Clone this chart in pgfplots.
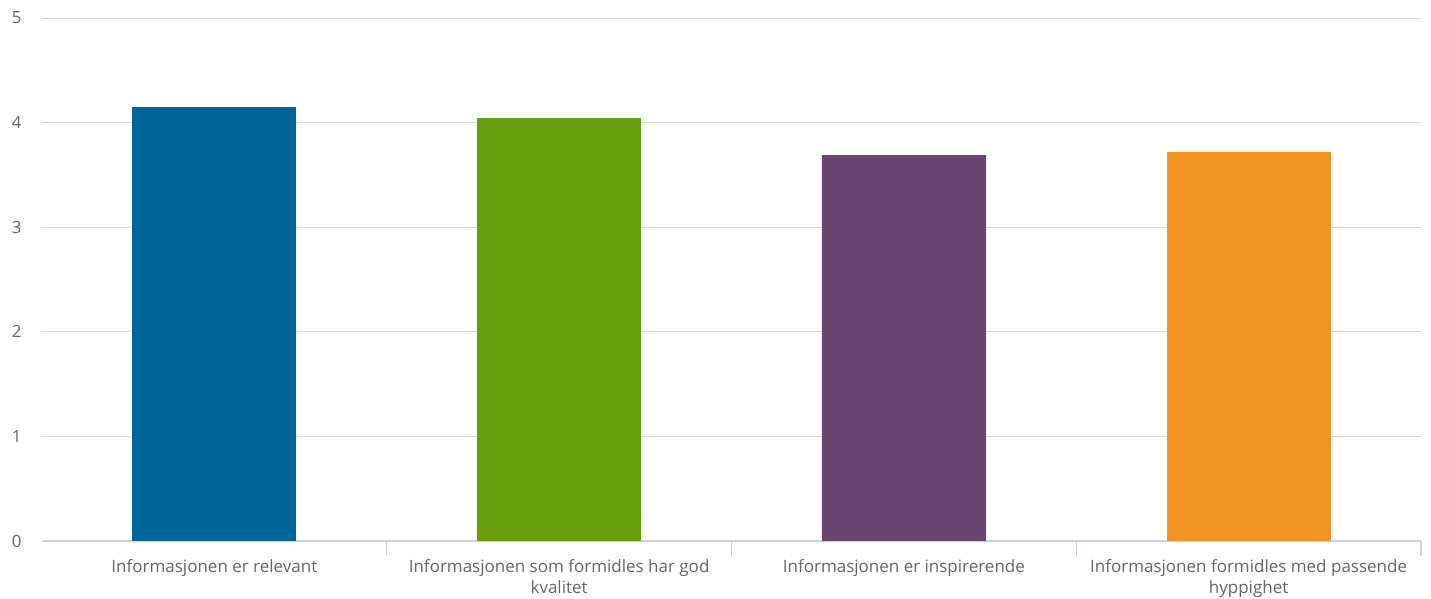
\documentclass[border=0pt]{standalone}
\usepackage{fontspec}
\setmainfont{Open Sans}
\usepackage{pgfplots}
\pgfplotsset{compat=1.18}
\definecolor{c1}{RGB}{0,102,153}
\definecolor{c2}{RGB}{102,158,13}
\definecolor{c3}{RGB}{107,69,114}
\definecolor{c4}{RGB}{243,147,34}
\definecolor{gridc}{RGB}{216,216,216}
\definecolor{axisc}{RGB}{197,211,230}
\definecolor{txt}{RGB}{102,102,102}
\begin{document}
\begin{tikzpicture}
\begin{axis}[
  at={(0,0)}, anchor=south west,
  scale only axis,
  width=1379pt, height=523pt,
  xmin=-0.5, xmax=3.5, ymin=0, ymax=5,
  ybar, bar shift=0pt, bar width=164pt,
  axis x line=bottom, axis y line=left,
  y axis line style={draw=none},
  x axis line style={-, draw=axisc, line width=1.4pt},
  xtick={0,1,2,3},
  xticklabels={Informasjonen er relevant,
    {Informasjonen som formidles har god\\kvalitet},
    Informasjonen er inspirerende,
    {Informasjonen formidles med passende\\hyppighet}},
  x tick label style={font=\fontsize{17}{21}\selectfont, text=txt, align=center, yshift=-15pt},
  ytick={0,1,2,3,4,5},
  y tick label style={font=\fontsize{16.8}{20}\selectfont, text=txt, xshift=-17pt},
  /pgf/number format/assume math mode=true,
  major tick length=0pt,
  ymajorgrids, grid style={draw=gridc, line width=1pt},
  extra x ticks={0.5,1.5,2.5,3.5},
  extra x tick labels={},
  extra x tick style={grid=none, major tick length=15pt, tick align=outside, tick style={draw=axisc, line width=1.4pt}},
]
\addplot[fill=c1, draw=none] coordinates {(0,4.15)};
\addplot[fill=c2, draw=none] coordinates {(1,4.04)};
\addplot[fill=c3, draw=none] coordinates {(2,3.69)};
\addplot[fill=c4, draw=none] coordinates {(3,3.72)};
\end{axis}
\pgfresetboundingbox
\path (-42pt,-57pt) rectangle (1389pt,541pt);
\end{tikzpicture}
\end{document}
